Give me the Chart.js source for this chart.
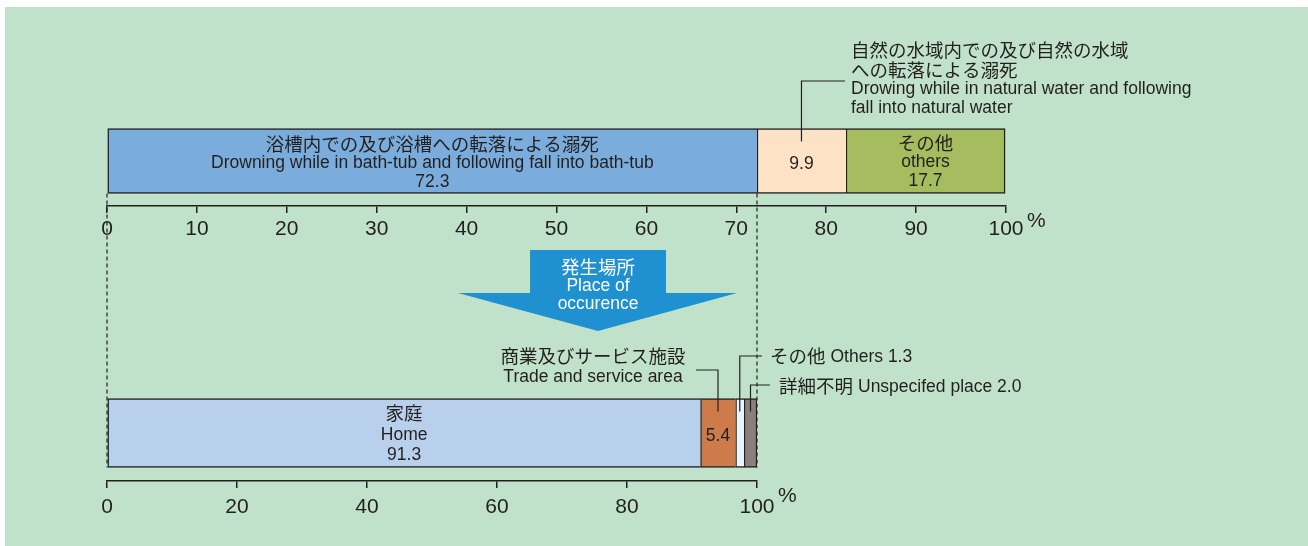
<!DOCTYPE html>
<html>
<head>
<meta charset="utf-8">
<script src="https://cdn.jsdelivr.net/npm/chart.js@4.4.1/dist/chart.umd.min.js"></script>
<style>
    body { margin: 0; background: #fff; }
    #wrap { position: relative; width: 1308px; height: 546px; overflow: hidden; }
    #bg { position: absolute; left: 5px; top: 7px; right: 0; bottom: 0; background: #c0e2ca; }
    canvas { position: absolute; left: 0; top: 0; }
</style>
</head>
<body>
<div id="wrap">
    <div id="bg"></div>
    <canvas id="causeChart" width="1308" height="546"></canvas>
    <canvas id="placeChart" width="1308" height="546"></canvas>
</div>
<script>
// Data - cause of drowning (top bar)
const causeNamesJa = ['浴槽内での及び浴槽への転落による溺死', '自然の水域内での及び自然の水域\nへの転落による溺死', 'その他'];
const causeNamesEn = ['Drowning while in bath-tub and following fall into bath-tub', 'Drowing while in natural water and following\nfall into natural water', 'others'];
const causeValues = [72.3, 9.9, 17.7];
const causeTicks = [0, 10, 20, 30, 40, 50, 60, 70, 80, 90, 100];

// Data - place of occurence (bottom bar)
const placeNamesJa = ['家庭', '商業及びサービス施設', 'その他', '詳細不明'];
const placeNamesEn = ['Home', 'Trade and service area', 'Others', 'Unspecifed place'];
const placeValues = [91.3, 5.4, 1.3, 2.0];
const placeTicks = [0, 20, 40, 60, 80, 100];

const arrowTitle = ['発生場所', 'Place of', 'occurence'];

const INK = '#231f20';
const JA_FONT = '18.5px "Noto Sans CJK JP", sans-serif';
const EN_FONT = '17.5px "Liberation Sans", Arial, sans-serif';

// small drawing helpers
function drawText(ctx, text, x, y, font, align, color) {
    ctx.save();
    ctx.font = font;
    ctx.fillStyle = color || INK;
    ctx.textAlign = align || 'center';
    ctx.textBaseline = 'middle';
    ctx.fillText(text, x, y);
    ctx.restore();
}

function drawMixed(ctx, ja, en, x, y) {
    ctx.save();
    ctx.font = JA_FONT;
    var w = ctx.measureText(ja).width;
    ctx.restore();
    drawText(ctx, ja, x, y, JA_FONT, 'left');
    drawText(ctx, en, x + w + 5, y + 1, EN_FONT, 'left');
}

function leader(ctx, pts) {
    ctx.save();
    ctx.strokeStyle = INK;
    ctx.lineWidth = 1.2;
    ctx.beginPath();
    ctx.moveTo(pts[0][0], pts[0][1]);
    for (var i = 1; i < pts.length; i++) {
        ctx.lineTo(pts[i][0], pts[i][1]);
    }
    ctx.stroke();
    ctx.restore();
}

function segment(chart, i) {
    var bar = chart.getDatasetMeta(i).data[0];
    return {
        cx: (bar.x + bar.base) / 2,
        cy: bar.y,
        top: bar.y - bar.height / 2,
        bottom: bar.y + bar.height / 2
    };
}

function buildDatasets(values, colors, thickness) {
    return values.map(function(v, i) {
        return {
            data: [v],
            backgroundColor: colors[i],
            borderColor: INK,
            borderWidth: { top: 1.5, bottom: 1.5, left: 1.5, right: i === values.length - 1 ? 1.5 : 0 },
            borderSkipped: false,
            barThickness: thickness
        };
    });
}

function axisOptions(tickList, labelPad) {
    return {
        type: 'linear',
        stacked: true,
        min: 0,
        max: 100,
        grid: { drawOnChartArea: false, drawTicks: true, tickLength: 7, color: INK, lineWidth: 1.5 },
        border: { display: true, color: INK, width: 1.5 },
        ticks: {
            color: INK,
            padding: labelPad,
            maxRotation: 0,
            autoSkip: false,
            font: { family: '"Liberation Sans", Arial, sans-serif', size: 21 }
        },
        afterBuildTicks: function(scale) {
            scale.ticks = tickList.map(function(v) { return { value: v }; });
        },
        afterFit: function(scale) {
            scale.height = 40;
        }
    };
}

function percentSign(chart) {
    var xs = chart.scales.x;
    drawText(chart.ctx, '%', xs.getPixelForValue(100) + 21, xs.top + 15, '21px "Liberation Sans", Arial, sans-serif', 'left');
}

const ChartPage = {
    causeChart: null,

    init: function() {
        this.initCauseChart();
        this.initPlaceChart();
    },

    // top bar: cause of drowning
    initCauseChart: function() {
        var ctx = document.getElementById('causeChart').getContext('2d');
        var colors = ['#7aaddc', '#fee2c6', '#a5bd5f'];

        var labelPlugin = {
            id: 'causeLabels',
            afterDatasetsDraw: function(chart) {
                var c = chart.ctx;
                var s0 = segment(chart, 0);
                drawText(c, causeNamesJa[0], s0.cx, s0.cy - 17, JA_FONT);
                drawText(c, causeNamesEn[0], s0.cx, s0.cy + 2, EN_FONT);
                drawText(c, causeValues[0].toFixed(1), s0.cx, s0.cy + 21, EN_FONT);

                var s1 = segment(chart, 1);
                drawText(c, causeValues[1].toFixed(1), s1.cx, s1.cy + 3, EN_FONT);
                leader(c, [[s1.cx, s1.top + 13], [s1.cx, 81], [845, 81]]);
                var ja = causeNamesJa[1].split('\n');
                var en = causeNamesEn[1].split('\n');
                drawText(c, ja[0], 851, 50, JA_FONT, 'left');
                drawText(c, ja[1], 851, 70, JA_FONT, 'left');
                drawText(c, en[0], 851, 89, EN_FONT, 'left');
                drawText(c, en[1], 851, 108, EN_FONT, 'left');

                var s2 = segment(chart, 2);
                drawText(c, causeNamesJa[2], s2.cx, s2.cy - 18, JA_FONT);
                drawText(c, causeNamesEn[2], s2.cx, s2.cy + 1, EN_FONT);
                drawText(c, causeValues[2].toFixed(1), s2.cx, s2.cy + 20, EN_FONT);
            },
            afterDraw: percentSign
        };

        this.causeChart = new Chart(ctx, {
            type: 'bar',
            data: {
                labels: ['cause'],
                datasets: buildDatasets(causeValues, colors, 65)
            },
            options: {
                indexAxis: 'y',
                responsive: false,
                animation: false,
                layout: { padding: { left: 107, right: 302, top: 116, bottom: 300 } },
                plugins: { legend: { display: false }, tooltip: { enabled: false } },
                scales: {
                    x: axisOptions(causeTicks, 4),
                    y: { stacked: true, display: false }
                }
            },
            plugins: [labelPlugin]
        });
    },

    // bottom bar: place of occurence
    initPlaceChart: function() {
        var ctx = document.getElementById('placeChart').getContext('2d');
        var colors = ['#b9d0ec', '#cd7b4b', '#e9f4fb', '#8a7f7b'];
        var top = this.causeChart;

        var overlayPlugin = {
            id: 'placeOverlay',
            beforeDatasetsDraw: function(chart) {
                var c = chart.ctx;
                // arrow
                c.save();
                c.fillStyle = '#1f90d0';
                c.beginPath();
                c.moveTo(530, 250);
                c.lineTo(666, 250);
                c.lineTo(666, 293);
                c.lineTo(737, 293);
                c.lineTo(598, 331);
                c.lineTo(458, 293);
                c.lineTo(530, 293);
                c.closePath();
                c.fill();
                c.restore();
                drawText(c, arrowTitle[0], 598, 267, JA_FONT, 'center', '#fff');
                drawText(c, arrowTitle[1], 598, 286, EN_FONT, 'center', '#fff');
                drawText(c, arrowTitle[2], 598, 304, EN_FONT, 'center', '#fff');
            },
            afterDatasetsDraw: function(chart) {
                var c = chart.ctx;
                var xs = chart.scales.x;
                var topBar = segment(top, 0);
                var s0 = segment(chart, 0);

                // dashed guides from top bar to bottom bar
                c.save();
                c.strokeStyle = INK;
                c.lineWidth = 1.2;
                c.setLineDash([4, 3]);
                c.beginPath();
                c.moveTo(top.scales.x.getPixelForValue(0), topBar.bottom);
                c.lineTo(xs.getPixelForValue(0), s0.bottom);
                c.moveTo(top.scales.x.getPixelForValue(causeValues[0]), topBar.bottom);
                c.lineTo(xs.getPixelForValue(100), s0.bottom);
                c.stroke();
                c.restore();

                drawText(c, placeNamesJa[0], s0.cx, s0.cy - 20, JA_FONT);
                drawText(c, placeNamesEn[0], s0.cx, s0.cy + 2, EN_FONT);
                drawText(c, placeValues[0].toFixed(1), s0.cx, s0.cy + 22, EN_FONT);

                var s1 = segment(chart, 1);
                drawText(c, placeValues[1].toFixed(1), s1.cx, s1.cy + 3, EN_FONT);
                leader(c, [[s1.cx, s1.top + 13], [s1.cx, 370], [696, 370]]);
                drawText(c, placeNamesJa[1], 593, 356, JA_FONT);
                drawText(c, placeNamesEn[1], 593, 377, EN_FONT);

                var s2 = segment(chart, 2);
                leader(c, [[s2.cx, s2.top + 13], [s2.cx, 356], [762, 356]]);
                drawMixed(c, placeNamesJa[2], placeNamesEn[2] + ' ' + placeValues[2].toFixed(1), 770, 356);

                var s3 = segment(chart, 3);
                leader(c, [[s3.cx, s3.top + 13], [s3.cx, 385], [770, 385]]);
                drawMixed(c, placeNamesJa[3], placeNamesEn[3] + ' ' + placeValues[3].toFixed(1), 779, 386);
            },
            afterDraw: percentSign
        };

        new Chart(ctx, {
            type: 'bar',
            data: {
                labels: ['place'],
                datasets: buildDatasets(placeValues, colors, 69)
            },
            options: {
                indexAxis: 'y',
                responsive: false,
                animation: false,
                layout: { padding: { left: 107, right: 551, top: 385, bottom: 25 } },
                plugins: { legend: { display: false }, tooltip: { enabled: false } },
                scales: {
                    x: axisOptions(placeTicks, 7),
                    y: { stacked: true, display: false }
                }
            },
            plugins: [overlayPlugin]
        });
    }
};

ChartPage.init();
</script>
</body>
</html>
